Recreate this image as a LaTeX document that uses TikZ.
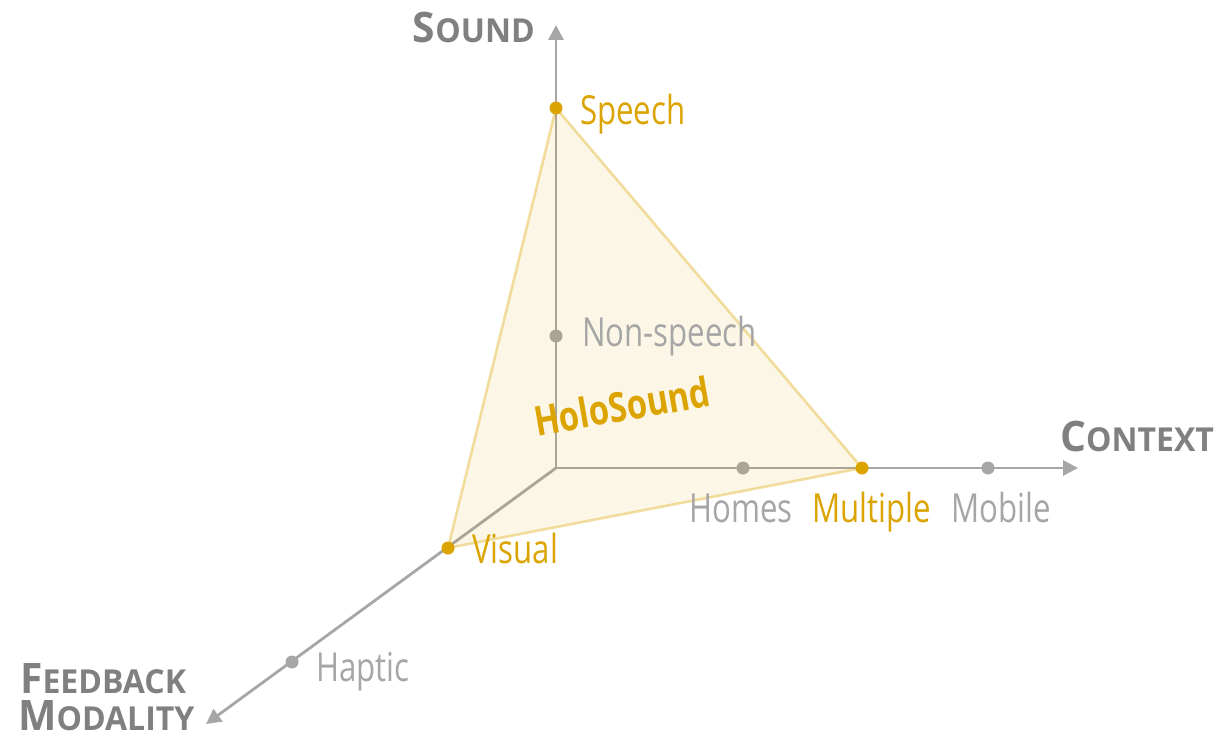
\documentclass[tikz,border=0pt]{standalone}
\usepackage{fontspec}
\usetikzlibrary{arrows.meta}
\newfontfamily\labfont[FakeStretch=0.78]{Open Sans}
\newfontfamily\holofont[FakeStretch=0.8]{Open Sans Bold}
\newfontfamily\titlefont[FakeStretch=0.97]{Open Sans Bold}
\definecolor{axisgray}{HTML}{A6A6A6}
\definecolor{titlegray}{HTML}{808080}
\definecolor{gold}{HTML}{DCA400}
\newcommand{\tcap}[2]{{\fontsize{42}{42}\selectfont #1}{\fontsize{33}{33}\selectfont #2}}
\tikzset{
  axisline/.style={draw=axisgray, line width=2.8pt, -{Triangle[length=15pt,width=15pt]}},
  graydot/.style={circle, fill=axisgray, inner sep=0pt, minimum size=13pt},
  golddot/.style={circle, fill=gold, inner sep=0pt, minimum size=13pt},
  graylab/.style={anchor=base west, inner sep=0pt, text=axisgray, font=\labfont\fontsize{40}{40}\selectfont},
  goldlab/.style={anchor=base west, inner sep=0pt, text=gold, font=\labfont\fontsize{40}{40}\selectfont},
  axtitle/.style={inner sep=0pt, text=titlegray, font=\titlefont},
}
\begin{document}
\begin{tikzpicture}[x=1pt,y=-1pt]
\useasboundingbox (0,0) rectangle (1222,738);
\coordinate (O) at (556,468);
\coordinate (Stip) at (556,25);
\coordinate (Ctip) at (1078,468);
\coordinate (Ftip) at (206,724);
\draw[axisline] (O) -- (Stip);
\draw[axisline] (O) -- (Ctip);
\draw[axisline] (O) -- (Ftip);
\node[graydot] (nonspeech) at (556,336) {};
\node[graydot] (homes) at (743,468) {};
\node[graydot] (mobile) at (988,468) {};
\node[graydot] (haptic) at (292,662) {};
\coordinate (sp) at (556,108);
\coordinate (mu) at (862,468);
\coordinate (vi) at (448,548);
\fill[gold, fill opacity=0.1] (sp) -- (mu) -- (vi) -- cycle;
\draw[gold, draw opacity=0.35, line width=2.6pt, line join=round] (sp) -- (mu) -- (vi) -- cycle;
\node[golddot] (speech) at (sp) {};
\node[golddot] (multiple) at (mu) {};
\node[golddot] (visual) at (vi) {};
\node[goldlab] (speechL) at (580,125) {Speech};
\node[graylab] (nonspeechL) at (582,346) {Non-speech};
\node[graylab] (homesL) at (689,522) {Homes};
\node[goldlab] (multipleL) at (812,522) {Multiple};
\node[graylab] (mobileL) at (951,522) {Mobile};
\node[goldlab] (visualL) at (472,563) {Visual};
\node[graylab] (hapticL) at (316,681) {Haptic};
\node[inner sep=0pt, text=gold, font=\holofont\fontsize{41}{41}\selectfont, rotate=10] (holo) at (622,406) {HoloSound};
\node[axtitle, anchor=base east] (soundT) at (535,43) {\tcap{S}{OUND}};
\node[axtitle, anchor=base west] (contextT) at (1060,451) {\tcap{C}{ONTEXT}};
\node[axtitle, anchor=base west] (feedT) at (20,693) {\tcap{F}{EEDBACK}};
\node[axtitle, anchor=base west] (modT) at (18,730) {\tcap{M}{ODALITY}};
\end{tikzpicture}
\end{document}
